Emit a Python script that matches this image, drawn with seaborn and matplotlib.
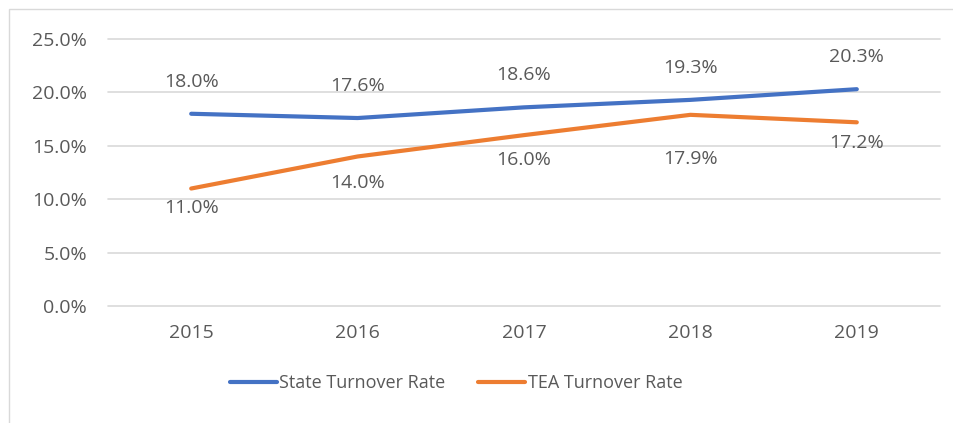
import matplotlib
matplotlib.use("Agg")
import matplotlib.pyplot as plt
import seaborn as sns
import pandas as pd
from matplotlib.patches import Rectangle
from matplotlib.lines import Line2D

years = ["2015", "2016", "2017", "2018", "2019"]
state_rate = [18.0, 17.6, 18.6, 19.3, 20.3]
tea_rate = [11.0, 14.0, 16.0, 17.9, 17.2]
series_names = ["State Turnover Rate", "TEA Turnover Rate"]
y_ticks = [0, 5, 10, 15, 20, 25]

# label offsets (points) — styling only
state_label_offsets = [23, 23, 23, 23, 23]
tea_label_offsets = [-14, -19, -18, -32, -15]

sns.set_theme(style="white")
plt.rcParams["font.family"] = ["Open Sans", "DejaVu Sans"]
text_color = "#595959"
colors = ["#4472C4", "#ED7D31"]
fs = 14

df = pd.DataFrame({
    "Year": years * 2,
    "Rate": state_rate + tea_rate,
    "Series": [series_names[0]] * len(years) + [series_names[1]] * len(years),
})

fig = plt.figure(figsize=(9.54, 4.23), dpi=100)
ax = fig.add_axes([108 / 954, 1 - 306 / 423, (940 - 108) / 954, (306 - 39) / 423])

sns.lineplot(data=df, x="Year", y="Rate", hue="Series", palette=colors,
             linewidth=3, ax=ax, legend=False, sort=False)
for ln in ax.lines:
    ln.set_solid_capstyle("round")

ax.set_xlim(-0.5, len(years) - 0.5)
ax.set_ylim(0, 25)
ax.set_yticks(y_ticks)
ax.set_yticklabels([f"{v:.1f}%" for v in y_ticks])
ax.grid(axis="y", color="#D9D9D9", linewidth=1.2)
for gl in ax.get_ygridlines():
    gl.set_clip_on(False)
ax.set_axisbelow(True)
for s in ax.spines.values():
    s.set_visible(False)
ax.set_xlabel("")
ax.set_ylabel("")
ax.tick_params(axis="both", length=0, labelsize=fs, colors=text_color)
ax.tick_params(axis="y", pad=15)
ax.tick_params(axis="x", pad=13)

for i, v in enumerate(state_rate):
    ax.annotate(f"{v:.1f}%", (i, v), xytext=(0, state_label_offsets[i]),
                textcoords="offset points", ha="center", va="center",
                fontsize=fs, color=text_color)
for i, v in enumerate(tea_rate):
    ax.annotate(f"{v:.1f}%", (i, v), xytext=(0, tea_label_offsets[i]),
                textcoords="offset points", ha="center", va="center",
                fontsize=fs, color=text_color)

handles = [Line2D([0], [0], color=c, linewidth=3, solid_capstyle="round") for c in colors]
fig.legend(handles, series_names, loc="center", bbox_to_anchor=(456 / 954, 1 - 383 / 423),
           ncol=2, frameon=False, fontsize=13, labelcolor=text_color,
           handlelength=2.6, handletextpad=0.15, columnspacing=1.8)

fig.patches.append(Rectangle((9 / 954, -0.1), 1.2, 1 - 9 / 423 + 0.1, transform=fig.transFigure,
                             fill=False, edgecolor="#D9D9D9", linewidth=1))

fig.savefig("out.png", dpi=100)
